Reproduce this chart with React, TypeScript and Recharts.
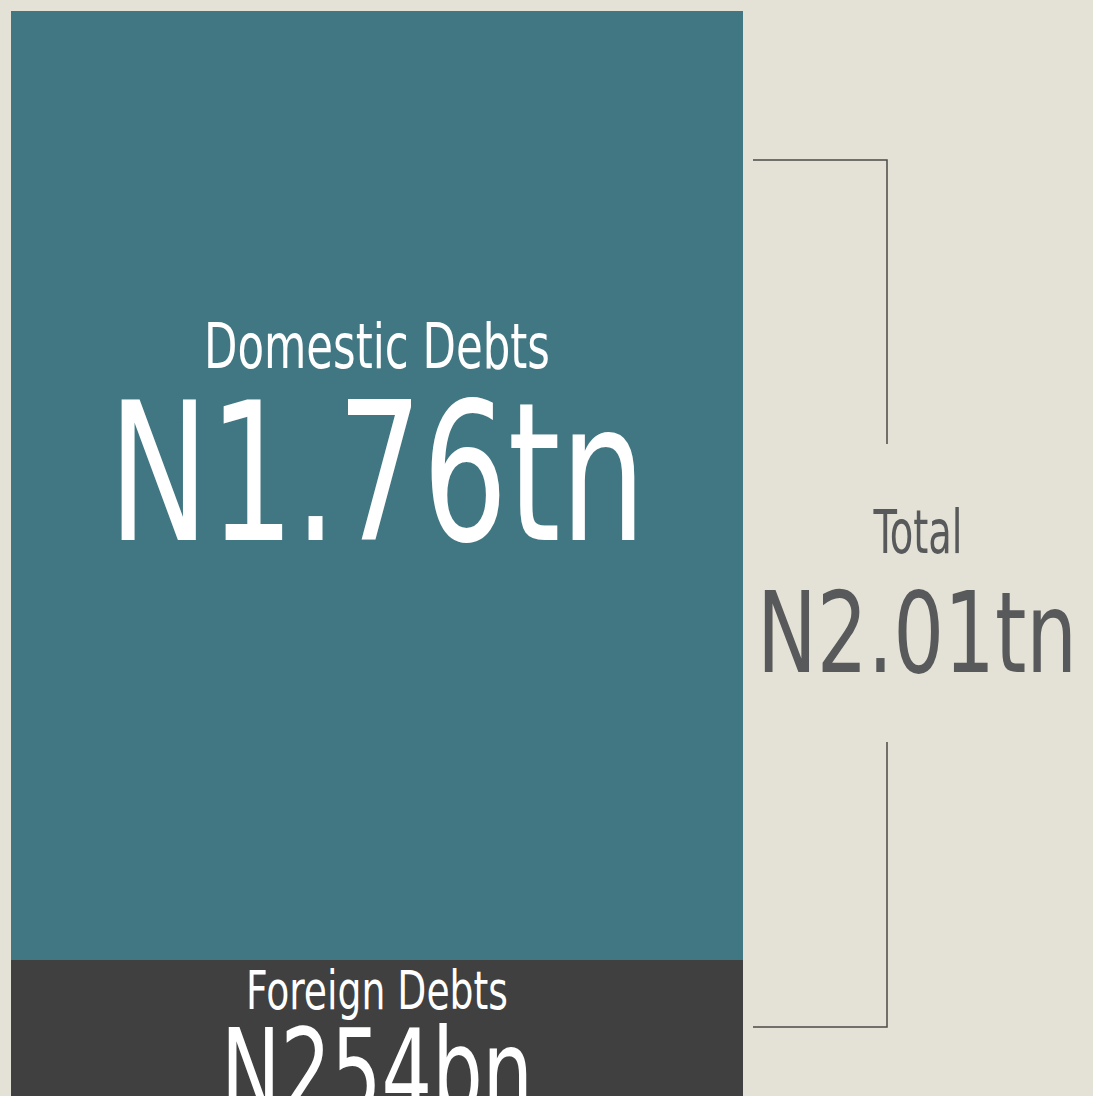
import { BarChart, Bar, XAxis, YAxis, Customized } from "recharts";

// values in trillion naira
const categories = ["Debt"];
const foreignDebt = [0.254];
const domesticDebt = [1.76];
const foreignLabel = "N254bn";
const domesticLabel = "N1.76tn";

const BG = "#e4e2d6";
const TEAL = "#417782";
const DARK = "#404040";
const GREY = "#58595b";
const FONT = "'DejaVu Sans Condensed', 'DejaVu Sans', sans-serif";

const data = categories.map((name, i) => ({
  name,
  foreign: foreignDebt[i],
  domestic: domesticDebt[i],
}));

const total = foreignDebt[0] + domesticDebt[0];
const totalLabel = `N${total.toFixed(2)}tn`;

// squeeze a text to a set width, the reference font is narrow
function Fit({ x, y, size, w, children }: any) {
  return (
    <text x={x} y={y} fontSize={size} textLength={w} lengthAdjust="spacingAndGlyphs">
      {children}
    </text>
  );
}

function DomesticLabel(props: any) {
  const { x, y, width } = props;
  const cx = x + width / 2;
  return (
    <g fill="#fff" fontFamily={FONT} textAnchor="middle">
      <Fit x={cx} y={y + 357} size={63} w={346}>
        Domestic Debts
      </Fit>
      <Fit x={cx} y={y + 529} size={192} w={537}>
        {domesticLabel}
      </Fit>
    </g>
  );
}

function ForeignLabel(props: any) {
  const { x, y, width } = props;
  const cx = x + width / 2;
  return (
    <g fill="#fff" fontFamily={FONT} textAnchor="middle">
      <Fit x={cx} y={y + 50} size={54} w={262}>
        Foreign Debts
      </Fit>
      <Fit x={cx} y={y + 154} size={118} w={312}>
        {foreignLabel}
      </Fit>
    </g>
  );
}

function TotalBracket() {
  return (
    <g>
      <g stroke="#4a4a45" strokeWidth={1.5} fill="none">
        <polyline points="753,160 887,160 887,444" />
        <polyline points="887,742 887,1027 753,1027" />
      </g>
      <g fill={GREY} fontFamily={FONT} textAnchor="middle">
        <Fit x={918} y={553} size={60} w={89}>
          Total
        </Fit>
        <Fit x={917} y={672} size={113} w={320}>
          {totalLabel}
        </Fit>
      </g>
    </g>
  );
}

export default function App() {
  return (
    <div style={{ width: 1093, height: 1096, background: BG, overflow: "hidden" }}>
      <style>{`body{margin:0;background:${BG};}`}</style>
      <BarChart
        width={1093}
        height={1096}
        data={data}
        margin={{ top: 11, right: 350, bottom: 0, left: 11 }}
        barCategoryGap={0}
      >
        <XAxis dataKey="name" hide />
        <YAxis hide domain={[0, total]} />
        <Bar
          dataKey="foreign"
          stackId="debt"
          fill={DARK}
          isAnimationActive={false}
          label={<ForeignLabel />}
        />
        <Bar
          dataKey="domestic"
          stackId="debt"
          fill={TEAL}
          isAnimationActive={false}
          label={<DomesticLabel />}
        />
        <Customized component={TotalBracket} />
      </BarChart>
    </div>
  );
}
